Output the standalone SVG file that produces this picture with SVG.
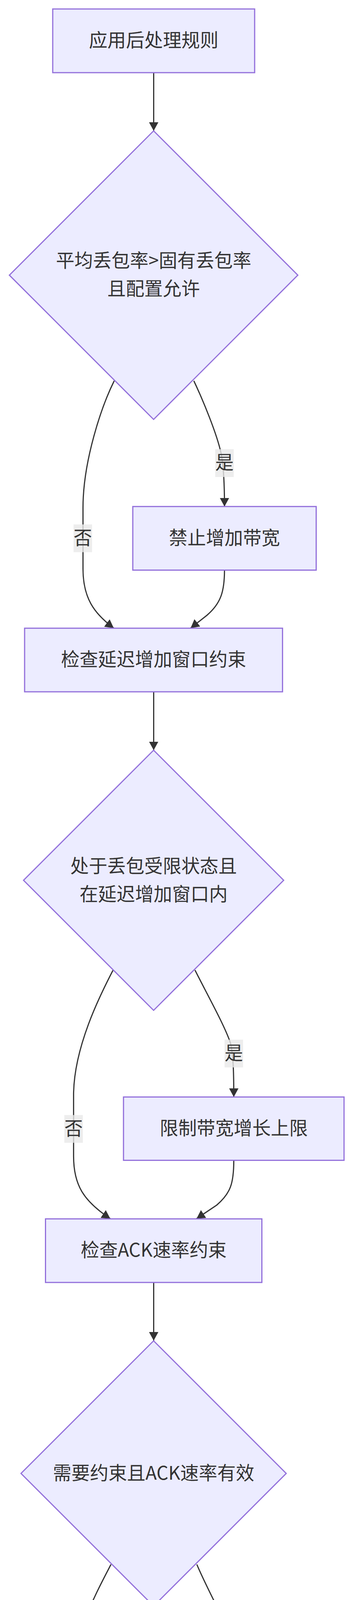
<svg xmlns="http://www.w3.org/2000/svg" width="932" height="4903" viewBox="0 0 932 4903">
<style>
.node rect, .node polygon { fill:#ECECFF; stroke:#9370DB; stroke-width:3; }
text { font-family:"Noto Sans CJK SC","Noto Sans",sans-serif; font-size:47.4px; fill:#333333; text-anchor:middle; dominant-baseline:central; }
.edge { fill:none; stroke:#333333; stroke-width:3; marker-end:url(#arrow); }
.elabel rect { fill:#e8e8e8; fill-opacity:0.8; }
</style>
<defs>
<marker id="arrow" viewBox="0 0 22 24" refX="22" refY="12" markerWidth="22" markerHeight="24" markerUnits="userSpaceOnUse" orient="auto">
<path d="M0,0 L22,12 L0,24 z" fill="#333333"/>
</marker>
</defs>
<rect x="0" y="0" width="932" height="4903" fill="#ffffff"/>
<g id="edges">
<path class="edge" d="M393.5,186 L393.5,335"/>
<path class="edge" d="M496.3,975 C520,1025 555,1110 566,1160 C573,1195 574.8,1240 574.8,1296.7"/>
<path class="edge" d="M292.4,975 C260,1040 212.5,1180 212.5,1300 L212.5,1456 C212.5,1530 240,1570 291.3,1608"/>
<path class="edge" d="M574.8,1459.5 C574.8,1515 565,1545 530,1575 L488,1608"/>
<path class="edge" d="M393.5,1771 L393.5,1920.5"/>
<path class="edge" d="M499.3,2483.5 C530,2545 575,2625 590,2670 C597,2700 598.6,2740 598.6,2808.3"/>
<path class="edge" d="M289.5,2483.5 C255,2550 190,2680 188.4,2800 L188.4,2960 C188.4,3035 215,3075 282.5,3120"/>
<path class="edge" d="M598.6,2970.4 C598.6,3030 590,3055 555,3085 L503,3120"/>
<path class="edge" d="M393.5,3283 L393.5,3432"/>
<path class="edge" d="M504,4005 C527,4060 575,4150 598,4200 C605,4230 607.5,4270 607.5,4332.5"/>
<path class="edge" d="M284.1,4005 C245,4080 180,4200 178.5,4330 L178.5,4470 C178.5,4560 210,4600 261.5,4644.6"/>
<path class="edge" d="M607.5,4495.3 C607.5,4560 595,4585 565,4610 L525.5,4644.6"/>
</g>
<g id="edge-labels">
<g class="elabel" id="label-yes-1"><rect x="551.1" y="1150" width="47.4" height="71.1"/><text x="574.8" y="1180.5">是</text></g>
<g class="elabel" id="label-no-1"><rect x="188.3" y="1342.5" width="47.4" height="71.1"/><text x="212" y="1373">否</text></g>
<g class="elabel" id="label-yes-2"><rect x="574.9" y="2661.5" width="47.4" height="71.1"/><text x="598.6" y="2692">是</text></g>
<g class="elabel" id="label-no-2"><rect x="164.7" y="2854.5" width="47.4" height="71.1"/><text x="188.4" y="2885">否</text></g>
<g class="elabel" id="label-yes-3"><rect x="584.1" y="4186.5" width="47.4" height="71.1"/><text x="607.8" y="4217">是</text></g>
<g class="elabel" id="label-no-3"><rect x="155.5" y="4378.5" width="47.4" height="71.1"/><text x="179.2" y="4409">否</text></g>
</g>
<g id="nodes">
<g class="node" id="n-apply"><rect x="135" y="23" width="517" height="163"/><text x="393.5" y="99.5">应用后处理规则</text></g>
<g class="node" id="n-cond1"><polygon points="393.3,335 762.6,704.4 393.3,1073.7 24,704.4"/><text x="393.3" y="663.9">平均丢包率&gt;固有丢包率</text><text x="393.3" y="735">且配置允许</text></g>
<g class="node" id="n-forbid"><rect x="340" y="1296.7" width="469.6" height="162.8"/><text x="574.8" y="1373.1">禁止增加带宽</text></g>
<g class="node" id="n-checkdelay"><rect x="63" y="1608.2" width="660.4" height="162.8"/><text x="393.2" y="1684.6">检查延迟增加窗口约束</text></g>
<g class="node" id="n-cond2"><polygon points="393.3,1920.5 726.3,2253.5 393.3,2586.5 60.3,2253.5"/><text x="393.3" y="2213.5">处于丢包受限状态且</text><text x="393.3" y="2285">在延迟增加窗口内</text></g>
<g class="node" id="n-limit"><rect x="316.2" y="2808.3" width="564.7" height="162.1"/><text x="598.6" y="2884.4">限制带宽增长上限</text></g>
<g class="node" id="n-checkack"><rect x="116.5" y="3120.3" width="554" height="162.8"/><text x="393.5" y="3196.7">检查ACK速率约束</text></g>
<g class="node" id="n-cond3"><polygon points="393.3,3432.5 732.8,3772 393.3,4111.5 53.8,3772"/><text x="393.3" y="3767">需要约束且ACK速率有效</text></g>
<g class="node" id="n-useack"><rect x="307.3" y="4332.5" width="601.5" height="162.8"/><text x="608" y="4408.9">用ACK速率约束带宽</text></g>
<g class="node" id="n-boundary"><rect x="47" y="4644.6" width="693" height="234.4"/><text y="4721" style="text-anchor:start"><tspan x="136.5">边界处理: </tspan><tspan x="360.5">与即时上下限</tspan></text><text x="393.5" y="4792.4">和延迟估计比较</text></g>
</g>
</svg>
